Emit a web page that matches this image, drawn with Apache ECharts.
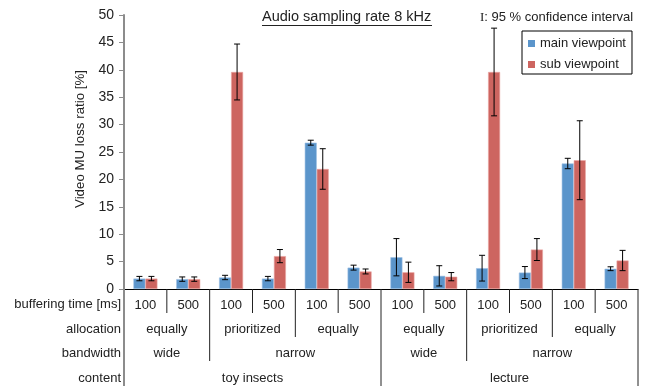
<!DOCTYPE html>
<html>
<head>
<meta charset="utf-8">
<script src="https://cdn.jsdelivr.net/npm/echarts@6/dist/echarts.min.js"></script>
<style>
html, body { margin: 0; padding: 0; background: #fff; }
#main { width: 645px; height: 386px; }
</style>
</head>
<body>
<div id="main"></div>
<script>
var dom = document.getElementById('main');
var myChart = echarts.init(dom);

// buffering time per bar pair
var categories = ['100', '500', '100', '500', '100', '500', '100', '500', '100', '500', '100', '500'];
var mainValues = [1.9, 1.8, 2.1, 1.9, 26.7, 3.9, 5.8, 2.4, 3.8, 3.0, 22.9, 3.7];
var mainErr = [0.4, 0.4, 0.4, 0.4, 0.45, 0.45, 3.4, 1.85, 2.35, 1.1, 0.95, 0.35];
var subValues = [1.9, 1.8, 39.6, 6.0, 21.9, 3.2, 3.05, 2.25, 39.6, 7.2, 23.5, 5.2];
var subErr = [0.4, 0.4, 5.1, 1.2, 3.7, 0.45, 1.85, 0.75, 8.0, 2.0, 7.2, 1.85];

// group rows: [label, first index, last index]
var allocation = [['equally', 0, 1], ['prioritized', 2, 3], ['equally', 4, 5], ['equally', 6, 7], ['prioritized', 8, 9], ['equally', 10, 11]];
var bandwidth = [['wide', 0, 1], ['narrow', 2, 5], ['wide', 6, 7], ['narrow', 8, 11]];
var content = [['toy insects', 0, 5], ['lecture', 6, 11]];
var rowNames = ['buffering time [ms]', 'allocation', 'bandwidth', 'content'];

var yTicks = [0, 5, 10, 15, 20, 25, 30, 35, 40, 45, 50];

var FONT = 'Liberation Sans, Arial, sans-serif';
var BLUE = '#5b95cb';
var RED = '#cd6560';

// error bar data: [index, low, high, offset sign]
var errData = [];
for (var i = 0; i < categories.length; i++) {
    errData.push([i, mainValues[i] - mainErr[i], mainValues[i] + mainErr[i], -1]);
    errData.push([i, subValues[i] - subErr[i], subValues[i] + subErr[i], 1]);
}

// label rows below axis
var groupData = [];
var groupNames = [];
[allocation, bandwidth, content].forEach(function (row, lvl) {
    row.forEach(function (g) {
        groupData.push([g[1], g[2], lvl + 1]);
        groupNames.push(g[0]);
    });
});

// separators: boundary index -> depth level
var depth = [];
for (var b = 0; b <= categories.length; b++) depth.push(0);
[allocation, bandwidth, content].forEach(function (row, lvl) {
    row.forEach(function (g) {
        depth[g[1]] = Math.max(depth[g[1]], lvl + 1);
        depth[g[2] + 1] = Math.max(depth[g[2] + 1], lvl + 1);
    });
});
depth[0] = 4;
depth[categories.length] = 4;
var sepData = depth.map(function (d, b) { return [b, d]; });

var rowOffset = [15, 40, 64, 89];
var sepLen = [24, 48, 72, 97, 97];

function renderErr(params, api) {
    var x = api.coord([api.value(0), 0])[0] + api.value(3) * 6;
    var lo = api.coord([api.value(0), api.value(1)])[1];
    var hi = api.coord([api.value(0), api.value(2)])[1];
    var st = { stroke: '#000', lineWidth: 1 };
    return {
        type: 'group',
        children: [
            { type: 'line', shape: { x1: x, y1: lo, x2: x, y2: hi }, style: st },
            { type: 'line', shape: { x1: x - 3, y1: lo, x2: x + 3, y2: lo }, style: st },
            { type: 'line', shape: { x1: x - 3, y1: hi, x2: x + 3, y2: hi }, style: st }
        ]
    };
}

function renderGroups(params, api) {
    var base = api.coord([api.value(0), 0]);
    var end = api.coord([api.value(1), 0]);
    var lvl = api.value(2);
    return {
        type: 'text',
        style: {
            text: groupNames[params.dataIndex],
            x: (base[0] + end[0]) / 2,
            y: base[1] + rowOffset[lvl],
            align: 'center',
            verticalAlign: 'middle',
            fill: '#222',
            font: '13px ' + FONT
        }
    };
}

function renderSep(params, api) {
    var bw = api.size([1, 0])[0];
    var first = api.coord([0, 0]);
    var b = api.value(0);
    var x = first[0] + (b - 0.5) * bw;
    var d = api.value(1);
    return {
        type: 'line',
        shape: { x1: x, y1: first[1], x2: x, y2: first[1] + sepLen[d] },
        style: { stroke: b === 0 ? '#8c8c8c' : '#222', lineWidth: b === 0 ? 2 : 1 }
    };
}

var headerGraphics = rowNames.map(function (n, k) {
    return {
        type: 'text', x: 121, y: 289 + rowOffset[k],
        style: { text: n, font: '13px ' + FONT, fill: '#222', align: 'right', verticalAlign: 'middle' }
    };
});

option = {
    backgroundColor: '#fff',
    animation: false,
    grid: { left: 124, right: 7, top: 15, bottom: 97 },
    legend: {
        orient: 'vertical',
        left: 522, top: 31,
        itemWidth: 7, itemHeight: 7, itemGap: 8,
        padding: [6, 6, 3, 6],
        borderColor: '#000', borderWidth: 1,
        icon: 'rect',
        itemStyle: { borderWidth: 0 },
        textStyle: { fontFamily: FONT, fontSize: 13, color: '#222', lineHeight: 13 },
        data: ['main viewpoint', 'sub viewpoint']
    },
    graphic: [
        {
            type: 'text', left: 262, top: 9,
            style: { text: 'Audio sampling rate 8 kHz', font: '14.5px ' + FONT, fill: '#222' }
        },
        {
            type: 'line', shape: { x1: 262, y1: 25.5, x2: 432, y2: 25.5 },
            style: { stroke: '#222', lineWidth: 1 }
        },
        {
            type: 'text', left: 480, top: 11,
            style: {
                text: '{s|I}: 95 % confidence interval',
                font: '13px ' + FONT, fill: '#222',
                rich: { s: { fontFamily: 'Liberation Serif, serif', fontSize: 13, fill: '#222' } }
            }
        }
    ].concat(headerGraphics),
    xAxis: {
        type: 'category',
        data: categories,
        axisLine: { lineStyle: { color: '#000', width: 1 } },
        axisTick: { show: false },
        axisLabel: { margin: 10, fontFamily: FONT, fontSize: 13, color: '#222' }
    },
    yAxis: {
        type: 'value',
        min: 0, max: 50, interval: 5,
        name: 'Video MU loss ratio [%]',
        nameLocation: 'middle',
        nameGap: 37,
        nameTextStyle: { fontFamily: FONT, fontSize: 13.3, color: '#222', padding: [0, 0, 0, 26] },
        axisLine: { show: true, lineStyle: { color: '#8c8c8c', width: 2 } },
        axisTick: { show: true, length: 5, lineStyle: { color: '#8c8c8c' } },
        axisLabel: {
            fontFamily: FONT, fontSize: 14, color: '#222', margin: 10,
            formatter: function (v) { return yTicks.indexOf(v) >= 0 ? String(v) : ''; }
        },
        splitLine: { show: false }
    },
    series: [
        {
            name: 'main viewpoint', type: 'bar', data: mainValues,
            barWidth: 12, barGap: '0%',
            itemStyle: { color: BLUE, borderColor: '#9cc0e4', borderWidth: 0.6 }
        },
        {
            name: 'sub viewpoint', type: 'bar', data: subValues,
            barWidth: 12, barGap: '0%',
            itemStyle: { color: RED, borderColor: '#eba6a2', borderWidth: 0.6 }
        },
        {
            type: 'custom', renderItem: renderErr, data: errData,
            silent: true, z: 5, clip: false,
            encode: { x: 0, y: [1, 2] }
        },
        {
            type: 'custom', renderItem: renderGroups, data: groupData,
            silent: true, clip: false,
            encode: { x: [0, 1], y: -1 }
        },
        {
            type: 'custom', renderItem: renderSep, data: sepData,
            silent: true, clip: false,
            encode: { x: 0, y: -1 }
        }
    ]
};
if (option && typeof option === 'object') {
    myChart.setOption(option, true);
}
</script>
</body>
</html>
